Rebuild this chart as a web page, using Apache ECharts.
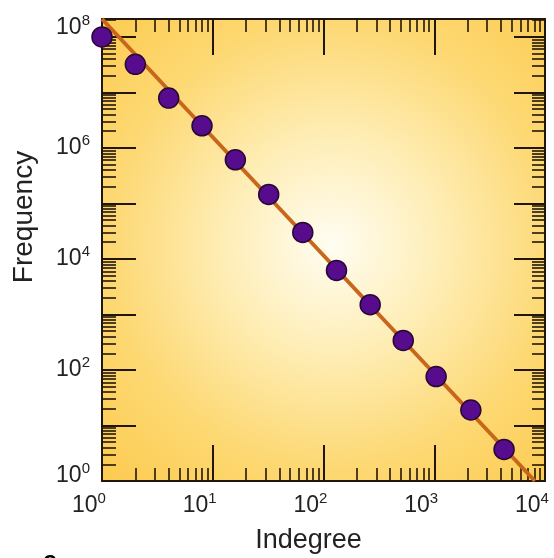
<!DOCTYPE html>
<html>
<head>
<meta charset="utf-8">
<script src="https://cdn.jsdelivr.net/npm/echarts@6/dist/echarts.min.js"></script>
<style>
html,body{margin:0;padding:0;background:#fff;}
#chart{width:554px;height:558px;}
</style>
</head>
<body>
<div id="chart"></div>
<script>
// ---- data ----
const indegree  = [1, 2, 4, 8, 16, 32, 65, 131, 264, 525, 1040, 2140, 4270];
const frequency = [1.0e8, 3.2e7, 7.9e6, 2.5e6, 6.1e5, 1.45e5, 3.0e4, 6.2e3, 1.5e3, 340, 76, 19, 3.7];
// fitted power-law line (end points)
const fitX = [1, 8100];
const fitY = [2.1e8, 1];
// axis ranges
const X_MIN = 1, X_MAX = 1e4;
const Y_MIN = 1, Y_MAX = 2.1e8;
// tick exponents / labels
const xLabelExp = [0, 1, 2, 3, 4];
const yLabelExp = [0, 2, 4, 6, 8];
const xMajorExp = [0, 1, 2, 3, 4];
const yMajorExp = [0, 1, 2, 3, 4, 5, 6, 7, 8];
const mantissas = [2, 3, 4, 5, 6, 7, 8, 9];

const xLogMax = Math.log10(X_MAX), yLogMax = Math.log10(Y_MAX);
function minorTicks(maxExp) {
  const out = [];
  for (let n = 0; n <= Math.ceil(maxExp); n++) {
    mantissas.forEach(k => { const v = n + Math.log10(k); if (v <= maxExp) out.push(v); });
  }
  return out;
}
const xMinor = minorTicks(xLogMax);
const yMinor = minorTicks(yLogMax);

const INK = '#22160a';
const TXT = '#222';
const FONT = 'Liberation Sans';

function tok(size, lh, pad) {
  return {fontSize: size, lineHeight: lh, verticalAlign: 'bottom', padding: pad, color: TXT, fontFamily: FONT};
}
const rich = {
  b:  tok(23, 22, [4, 0, 0, 0]),
  s:  tok(15, 15, [4, 0, 11, 0]),
  b8: tok(23, 22, [0, 0, 9, 0]),
  s8: tok(15, 15, [0, 0, 20, 0]),
  b0: tok(23, 22, [0, 0, 5, 0]),
  s0: tok(15, 15, [0, 0, 16, 0])
};

function tickAxis(base, opts) {
  return Object.assign({
    gridIndex: 0,
    axisLine: {show: false, onZero: false},
    splitLine: {show: false},
    axisLabel: {show: false},
    axisTick: {show: false}
  }, base, opts);
}
const majorTick = (vals, len) => ({show: true, inside: true, length: len, customValues: vals, lineStyle: {color: INK, width: 2}});
const minorTick = (vals, len) => ({show: true, inside: true, length: len, customValues: vals, lineStyle: {color: INK, width: 1.6}});
const shownLine = {show: true, onZero: false, lineStyle: {color: INK, width: 2}};

const xBase = {type: 'value', min: 0, max: xLogMax};
const yBase = {type: 'value', min: 0, max: yLogMax};

const option = {
  animation: false,
  backgroundColor: '#fff',
  grid: {
    left: 102, right: 9, top: 19, bottom: 77,
    show: true, borderWidth: 0,
    outerBoundsMode: 'none',
    backgroundColor: {
      type: 'radial', x: 0.52, y: 0.49, r: 0.78,
      colorStops: [
        {offset: 0, color: '#FFFDF2'},
        {offset: 0.3, color: '#FEEEB8'},
        {offset: 0.65, color: '#FDD872'},
        {offset: 1, color: '#FCC94A'}
      ]
    }
  },
  xAxis: [
    {type: 'log', logBase: 10, min: X_MIN, max: X_MAX, position: 'bottom', gridIndex: 0,
     axisLine: shownLine,
     axisTick: {show: false}, axisLabel: {show: false}, splitLine: {show: false}, minorTick: {show: false}},
    tickAxis(xBase, {position: 'bottom',
      axisTick: majorTick(xMajorExp, 36),
      axisLabel: {show: true, customValues: xLabelExp, margin: 14, align: 'center', padding: [0, 26, 0, 0],
        formatter: v => '{b|10}{s|' + Math.round(v) + '}', rich: rich},
      name: 'Indegree', nameLocation: 'middle', nameGap: 46,
      nameTextStyle: {fontSize: 27, color: TXT, fontFamily: FONT, padding: [0, 30, 0, 0]}}),
    tickAxis(xBase, {position: 'bottom', axisTick: minorTick(xMinor, 13)}),
    tickAxis(xBase, {position: 'top', axisLine: shownLine, axisTick: majorTick(xMajorExp, 36)}),
    tickAxis(xBase, {position: 'top', axisTick: minorTick(xMinor, 13)})
  ],
  yAxis: [
    {type: 'log', logBase: 10, min: Y_MIN, max: Y_MAX, position: 'left', gridIndex: 0,
     axisLine: shownLine,
     axisTick: {show: false}, axisLabel: {show: false}, splitLine: {show: false}, minorTick: {show: false}},
    tickAxis(yBase, {position: 'left',
      axisTick: majorTick(yMajorExp, 34),
      axisLabel: {show: true, customValues: yLabelExp, margin: 12,
        formatter: v => {
          const e = Math.round(v);
          if (e === 8) return '{b8|10}{s8|8}';
          if (e === 0) return '{b0|10}{s0|0}';
          return '{b|10}{s|' + e + '}';
        }, rich: rich},
      name: 'Frequency', nameLocation: 'middle', nameGap: 64,
      nameTextStyle: {fontSize: 28, color: TXT, fontFamily: FONT, padding: [0, 0, 0, 66]}}),
    tickAxis(yBase, {position: 'left', axisTick: minorTick(yMinor, 14)}),
    tickAxis(yBase, {position: 'right', axisLine: shownLine, axisTick: majorTick(yMajorExp, 31)}),
    tickAxis(yBase, {position: 'right', axisTick: minorTick(yMinor, 13)})
  ],
  graphic: [
    {type: 'text', left: 43, top: 549, silent: true,
     style: {text: 'a', font: 'bold 26px "Liberation Sans"', fill: '#000'}}
  ],
  series: [
    {type: 'line', xAxisIndex: 0, yAxisIndex: 0, data: fitX.map((x, i) => [x, fitY[i]]),
     symbol: 'none', lineStyle: {color: '#C8661C', width: 4}, z: 2, silent: true},
    {type: 'scatter', xAxisIndex: 0, yAxisIndex: 0, data: indegree.map((x, i) => [x, frequency[i]]),
     symbol: 'circle', symbolSize: 20,
     itemStyle: {color: '#560C8C', borderColor: '#280638', borderWidth: 1.5, opacity: 1}, z: 3}
  ]
};

const chart = echarts.init(document.getElementById('chart'), null, {renderer: 'canvas'});
chart.setOption(option);
</script>
</body>
</html>
